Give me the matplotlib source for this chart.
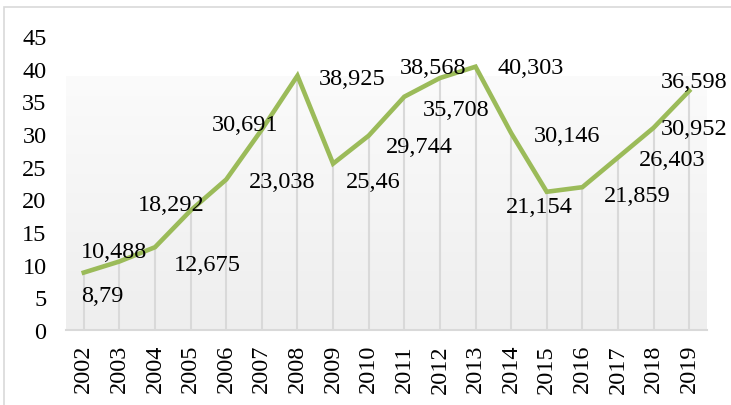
import numpy as np
import matplotlib.pyplot as plt
from matplotlib.patches import Rectangle
from matplotlib.colors import LinearSegmentedColormap

# data
years = [str(y) for y in range(2002, 2020)]
values = [8.79, 10.488, 12.675, 18.292, 23.038, 30.691, 38.925, 25.46, 29.744,
          35.708, 38.568, 40.303, 30.146, 21.154, 21.859, 26.403, 30.952, 36.598]
labels = ["8,79", "10,488", "12,675", "18,292", "23,038", "30,691", "38,925",
          "25,46", "29,744", "35,708", "38,568", "40,303", "30,146", "21,154",
          "21,859", "26,403", "30,952", "36,598"]
yticks = [0, 5, 10, 15, 20, 25, 30, 35, 40, 45]

# label offsets in pixels (dx right, dy down), as placed in the original
label_off = [(19, 23), (-5, -10), (52, 17), (-19, -6), (56, 2), (-17, -5),
             (55, 3), (40, 18), (51, 11), (52, 13), (-7, -11), (55, 1),
             (56, 2), (-7, 15), (55, 8), (54, 2), (41, 1), (5, -9)]

plt.rcParams['font.family'] = ['Liberation Serif', 'DejaVu Serif']
fs = 17.5

fig = plt.figure(figsize=(7.31, 4.06), dpi=100)
ax = fig.add_axes([66 / 731, 75 / 406, 641 / 731, 294 / 406])

# outer border
fig.patches.append(Rectangle((4 / 731, -0.1), 1.1, (398 / 406) + 0.1,
                             transform=fig.transFigure, fill=False,
                             edgecolor='#d9d9d9', lw=1.2))

x = np.arange(len(years))

# gradient plot-area fill
cmap = LinearSegmentedColormap.from_list('g', ['#eeeeee', '#fbfbfb'])
grad = np.linspace(0, 1, 256).reshape(-1, 1)
ax.imshow(grad, cmap=cmap, origin='lower', aspect='auto',
          extent=(-0.5, 17.5, 0, 38.8), zorder=0)

# drop lines
ax.vlines(x, 0, values, colors='#d9d9d9', lw=1.5, zorder=1)

ax.plot(x, values, color='#9bbb59', lw=3.3, solid_joinstyle='miter', zorder=3)

for i, (v, lab) in enumerate(zip(values, labels)):
    dx, dy = label_off[i]
    ax.annotate(lab, (x[i], v), xytext=(dx, -dy), textcoords='offset pixels',
                ha='center', va='center', fontsize=fs, zorder=4)

ax.set_xlim(-0.5, 17.5)
ax.set_ylim(0, 45)
ax.set_xticks(x)
ax.set_xticklabels(years, rotation=90, fontsize=fs)
ax.set_yticks(yticks)
ax.set_yticklabels([str(t) for t in yticks], fontsize=fs)
ax.tick_params(length=0)
ax.tick_params(axis='y', pad=14)
ax.tick_params(axis='x', pad=10)
for s in ['top', 'right', 'left']:
    ax.spines[s].set_visible(False)
ax.spines['bottom'].set_color('#d9d9d9')
ax.spines['bottom'].set_linewidth(1.5)
ax.set_facecolor('white')

fig.savefig('out.png', dpi=100)
